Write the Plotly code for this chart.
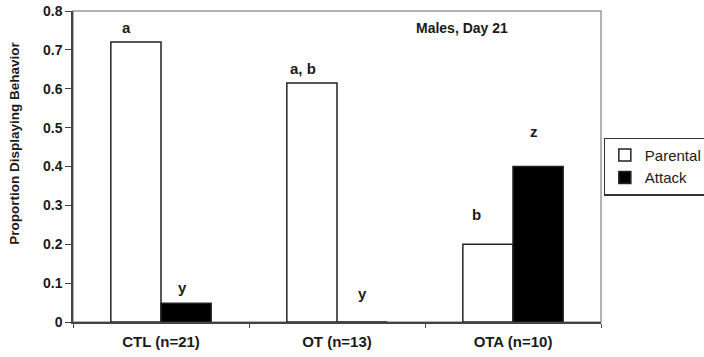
import plotly.graph_objects as go

categories = ["CTL (n=21)", "OT (n=13)", "OTA (n=10)"]
parental = [0.72, 0.615, 0.2]
attack = [0.048, 0.0, 0.4]
parental_letters = ["a", "a, b", "b"]
attack_letters = ["y", "y", "z"]
y_ticks = [0, 0.1, 0.2, 0.3, 0.4, 0.5, 0.6, 0.7, 0.8]

FONT = "Liberation Sans, Arial, sans-serif"
TXT = "#1a1a1a"

fig = go.Figure()
fig.add_trace(go.Bar(name="Parental", x=categories, y=parental,
                     marker=dict(color="white", line=dict(color="#222", width=1.5))))
fig.add_trace(go.Bar(name="Attack", x=categories, y=attack,
                     marker=dict(color="black", line=dict(color="#222", width=1.5))))

# significance letters (offsets in pixels relative to bar top)
p_shift = [(-10, 15), (-9, 14), (-12, 30)]
a_shift = [(-4, 16), (0, 29), (-4, 35)]
for i, c in enumerate(categories):
    fig.add_annotation(x=c, y=parental[i], text="<b>%s</b>" % parental_letters[i],
                       showarrow=False, xshift=-25 + p_shift[i][0], yshift=p_shift[i][1],
                       font=dict(size=15, color=TXT, family=FONT))
    fig.add_annotation(x=c, y=attack[i], text="<b>%s</b>" % attack_letters[i],
                       showarrow=False, xshift=25 + a_shift[i][0], yshift=a_shift[i][1],
                       font=dict(size=15, color=TXT, family=FONT))

fig.add_annotation(x=0.737, y=0.945, xref="paper", yref="paper", text="<b>Males, Day 21</b>",
                   showarrow=False, xanchor="center", yanchor="middle",
                   font=dict(size=14, color=TXT, family=FONT))

fig.add_annotation(x=-0.11, y=0.576, xref="paper", yref="paper", textangle=-90,
                   xanchor="center", yanchor="middle",
                   text="<b>Proportion Displaying Behavior</b>", showarrow=False,
                   font=dict(size=13.5, color=TXT, family=FONT))

# gray frame (top/right)
fig.add_shape(type="rect", xref="paper", yref="paper", x0=0, x1=1, y0=0, y1=1,
              line=dict(color="#9a9a9a", width=1.5), layer="below")

fig.update_layout(
    width=704, height=357,
    margin=dict(l=73, r=103, t=11, b=35, autoexpand=False),
    paper_bgcolor="white", plot_bgcolor="white",
    barmode="group", bargap=0.43, bargroupgap=0,
    font=dict(family=FONT, size=14, color=TXT),
    showlegend=True,
    legend=dict(x=1.005, y=0.5, xanchor="left", yanchor="middle",
                bordercolor="#333", borderwidth=1.2, bgcolor="white",
                font=dict(size=15, family=FONT, color=TXT),
                tracegroupgap=0, itemwidth=30),
    xaxis=dict(showline=True, linecolor="#444", linewidth=1.5, ticks="outside",
               tickson="boundaries", ticklen=4, tickcolor="#444", automargin=False,
               ticklabelstandoff=5,
               tickfont=dict(size=15, family=FONT, color=TXT),
               tickvals=categories, ticktext=["<b>%s</b>" % c for c in categories]),
    yaxis=dict(range=[0, 0.8], tickvals=y_ticks, automargin=False,
               ticktext=["<b>%g</b>" % v for v in y_ticks],
               showline=True, linecolor="#444", linewidth=1.5, ticks="outside",
               ticklen=6, tickcolor="#444", showgrid=False, zeroline=False,
               tickfont=dict(size=14, family=FONT, color=TXT)),
)

fig.write_html("out.html")
